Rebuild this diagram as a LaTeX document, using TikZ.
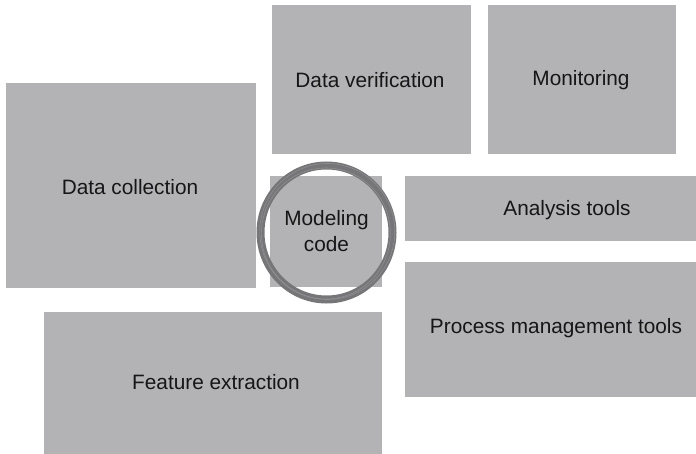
\documentclass[tikz,border=0pt]{standalone}
\usepackage{fontspec}
\setmainfont{Liberation Sans}
\usetikzlibrary{calc}
\definecolor{boxgray}{RGB}{179,179,182}
\definecolor{ringgray}{RGB}{118,118,120}
\definecolor{txt}{RGB}{22,22,22}
\tikzset{
  blk/.style={fill=boxgray, draw=none, inner sep=0pt, outer sep=0pt, anchor=north west},
  lbl/.style={text=txt, inner sep=0pt, font=\fontsize{20.8}{26}\selectfont, align=center},
  ring/.style={draw=ringgray, line width=8pt},
  streak/.style={draw=ringgray!75!white, line width=0.6pt, opacity=0.7}
}
\begin{document}
\begin{tikzpicture}[x=1pt,y=-1pt]
\useasboundingbox (0,0) rectangle (696,454);
% boxes
\node[blk, minimum width=199pt, minimum height=149pt] (dv) at (272,5) {};
\node[blk, minimum width=188pt, minimum height=149pt] (mon) at (488,5) {};
\node[blk, minimum width=250pt, minimum height=205pt] (dc) at (6,83) {};
\node[blk, minimum width=112pt, minimum height=111pt] (mc) at (270,176) {};
\node[blk, minimum width=291pt, minimum height=65pt] (at) at (405,176) {};
\node[blk, minimum width=291pt, minimum height=135pt] (pm) at (405,262) {};
\node[blk, minimum width=338pt, minimum height=142pt] (fe) at (43.5,312) {};
% ring around modeling code
\coordinate (rc) at (326.5,232.5);
\draw[ring] (rc) ellipse [x radius=66, y radius=67];
\draw[streak] ($(rc)+(0.8,-1)$) ellipse [x radius=67.5, y radius=68];
\draw[streak] ($(rc)+(-0.6,1)$) ellipse [x radius=64.5, y radius=65.5];
% labels
\node[lbl] (tdv) at (370,80) {Data verification};
\node[lbl] (tmon) at (581,80) {Monitoring};
\node[lbl] (tdc) at (130,187) {Data collection};
\node[lbl] (tmc) at (326.5,231) {Modeling\\code};
\node[lbl] (tat) at (567,210) {Analysis tools};
\node[lbl] (tpm) at (556,328) {Process management tools};
\node[lbl] (tfe) at (216,382) {Feature extraction};
\end{tikzpicture}
\end{document}
